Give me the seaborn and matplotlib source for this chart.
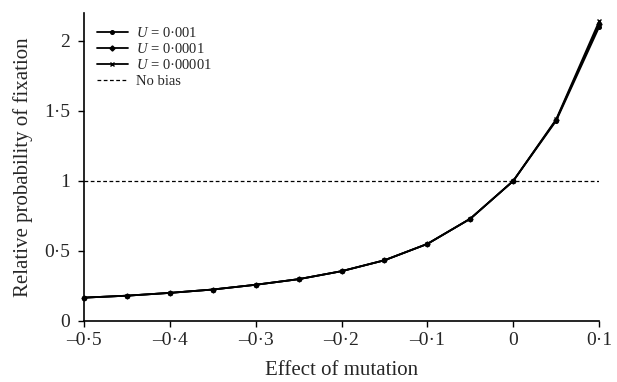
import pandas as pd
import matplotlib.pyplot as plt
import seaborn as sns
from matplotlib.ticker import FuncFormatter

sns.set_style('ticks')
plt.rcParams['font.family'] = ['Liberation Serif', 'DejaVu Serif']
plt.rcParams['mathtext.fontset'] = 'custom'
plt.rcParams['mathtext.it'] = 'Liberation Serif:italic'
plt.rcParams['mathtext.rm'] = 'Liberation Serif'

effect = [-0.5, -0.45, -0.4, -0.35, -0.3, -0.25, -0.2, -0.15, -0.1, -0.05, 0.0, 0.05, 0.1]
u_001 = [0.166, 0.180, 0.200, 0.224, 0.258, 0.298, 0.355, 0.433, 0.550, 0.730, 1.0, 1.430, 2.100]
u_0001 = [0.166, 0.180, 0.200, 0.224, 0.258, 0.298, 0.355, 0.433, 0.550, 0.730, 1.0, 1.436, 2.120]
u_00001 = [0.166, 0.180, 0.200, 0.224, 0.258, 0.298, 0.355, 0.433, 0.550, 0.730, 1.0, 1.440, 2.140]
labels = ['$U$ = 0·001', '$U$ = 0·0001', '$U$ = 0·00001']
markers = ['o', 'D', 'x']
sizes = [2.6, 2.6, 3.5]

fig = plt.figure(figsize=(6.17, 3.82), dpi=100)
ax = fig.add_axes([0.136, 0.16, 0.835, 0.806])

for vals, lab, m, s in zip([u_001, u_0001, u_00001], labels, markers, sizes):
    df = pd.DataFrame({'x': effect, 'y': vals})
    sns.lineplot(data=df, x='x', y='y', ax=ax, color='black', lw=1.3,
                 marker=m, markersize=s, markeredgewidth=1,
                 markeredgecolor='black', markerfacecolor='black',
                 label=lab, clip_on=False)

ax.axhline(1, color='black', ls=(0, (3, 2)), lw=0.9, label='No bias')

ax.set_xlim(-0.5, 0.1)
ax.set_ylim(0, 2.2)
ax.set_xticks([-0.5, -0.4, -0.3, -0.2, -0.1, 0, 0.1])
ax.set_yticks([0, 0.5, 1, 1.5, 2])

def fmt(v, pos):
    s = f'{v:.1f}'.rstrip('0').rstrip('.')
    if s in ('-0', ''):
        s = '0'
    return s.replace('.', '·').replace('-', '–')

ax.xaxis.set_major_formatter(FuncFormatter(fmt))
ax.yaxis.set_major_formatter(FuncFormatter(fmt))
ax.tick_params(labelsize=14, length=4, width=1, color='black')
ax.tick_params(axis='y', pad=6)
ax.tick_params(axis='x', pad=4)
for sp in ['top', 'right']:
    ax.spines[sp].set_visible(False)
for sp in ['left', 'bottom']:
    ax.spines[sp].set_linewidth(1.2)
    ax.spines[sp].set_color('black')

ax.set_xlabel('Effect of mutation', fontsize=15, labelpad=9)
ax.set_ylabel('Relative probability of fixation', fontsize=15, labelpad=8)

ax.legend(loc='upper left', frameon=False, fontsize=10.5, handlelength=2.1,
          labelspacing=0.15, borderaxespad=0.5, handletextpad=0.55)

fig.savefig('out.png', dpi=100)
